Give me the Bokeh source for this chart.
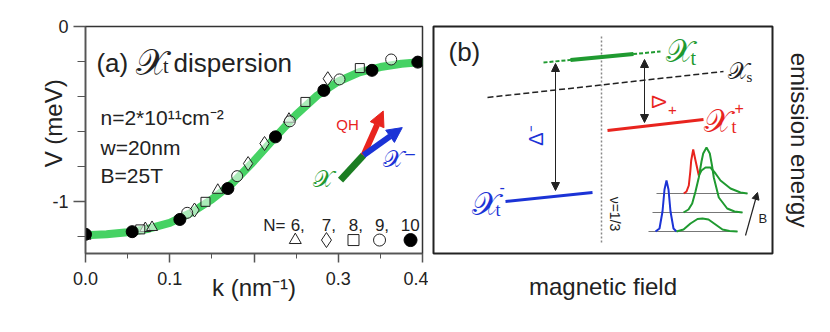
import math
from bokeh.plotting import figure
from bokeh.models import Range1d, FixedTicker, Label, Arrow, NormalHead
from bokeh.layouts import row
from bokeh.embed import file_html
from bokeh.resources import INLINE

# ---------------- data: panel (a) ----------------
curve_k = [0, 0.025, 0.05, 0.075, 0.1, 0.125, 0.15, 0.175, 0.2, 0.225, 0.25, 0.275, 0.3, 0.325, 0.35, 0.375, 0.4]
curve_V = [-1.195, -1.19, -1.178, -1.158, -1.125, -1.068, -0.99, -0.895, -0.77, -0.635, -0.505, -0.395, -0.315, -0.262, -0.232, -0.213, -0.203]

n6_k = [0.0, 0.071, 0.079, 0.157, 0.2415]
n6_V = [-1.20, -1.156, -1.15, -0.937, -0.530]
n7_k = [0.1294, 0.193, 0.2125, 0.2876]
n7_V = [-1.051, -0.785, -0.670, -0.299]
n8_k = [0.065, 0.1424, 0.261, 0.3256]
n8_V = [-1.162, -1.004, -0.432, -0.238]
n9_k = [0.1207, 0.180, 0.2425, 0.3015, 0.3628]
n9_V = [-1.067, -0.857, -0.543, -0.303, -0.189]
n10_k = [0.0, 0.0554, 0.112, 0.169, 0.2255, 0.2829, 0.340, 0.3944]
n10_V = [-1.19, -1.175, -1.105, -0.928, -0.632, -0.366, -0.251, -0.204]

x_ticks = [0, 0.1, 0.2, 0.3, 0.4]
x_tick_labels = ["0.0", "0.1", "", "0.3", "0.4"]
y_ticks = [0, -1]
y_tick_labels = ["0", "-1"]
legend_N = ["6,", "7,", "8,", "9,", "10"]

# ---------------- data: panel (b) (schematic, arbitrary units) ----------------
xt_u = [110, 227]; xt_v = [191, 202]
xt_solid_u = [137, 200]; xt_solid_v = [193.5, 199.5]
xs_u = [54, 290]; xs_v = [156, 182]
xtp_u = [174, 270]; xtp_v = [123, 134]
xtm_u = [72, 159]; xtm_v = [52, 61]
nu13_u = [168, 168]; nu13_v = [11, 218]

base_bot_u = [215, 304]; base_bot_v = [22, 22]
base_mid_u = [219, 309]; base_mid_v = [41, 41]
base_top_u = [223, 314]; base_top_v = [60, 60]
blue_u = [222, 226, 229, 231, 233, 235, 237, 240, 243]
blue_v = [22, 25, 42, 64, 73, 64, 42, 25, 22]
gbot_u = [243, 250, 257, 264, 269, 275, 282, 289, 296, 304]
gbot_v = [22, 24, 30, 34.5, 35, 34, 29, 24, 22.5, 22]
gmid_u = [250, 255, 258.7, 262, 265.3, 268, 269.7, 273, 276.3, 278.5, 280.3, 285.3, 293.7, 301, 309]
gmid_v = [41, 44, 50, 62, 76, 92, 100, 106, 100, 88, 76, 56, 45, 42, 41]
red_u = [250.3, 253, 255.3, 256.8, 257.7, 259.7, 262, 265.3]
red_v = [60, 62, 68, 82, 93, 104, 93, 78]
gtop_u = [265.3, 268, 272, 277, 282, 287, 297, 307, 314]
gtop_v = [78, 83, 86, 86, 80, 73, 65, 61, 60]

GREEN = "#1f9a30"
RED = "#e8241e"
BLUE = "#1b33d6"
SANS = "Liberation Sans"
SCRIPT = "DejaVu Serif"


def lab(p, x, y, text, size, color="#222222", align="left", baseline="middle",
        angle=0.0, font=SANS, style="normal"):
    p.add_layout(Label(x=x, y=y, text=text, text_font_size=f"{size}px",
                       text_color=color, text_align=align, text_baseline=baseline,
                       angle=angle, text_font=font, text_font_style=style))


def style_axis(ax):
    ax.major_label_text_font = SANS
    ax.major_label_text_font_size = "18px"
    ax.major_label_text_color = "#222222"
    ax.axis_line_color = "#555555"
    ax.axis_line_width = 1.5
    ax.major_tick_line_color = "#555555"
    ax.minor_tick_line_color = "#555555"
    ax.major_tick_line_width = 1.5
    ax.major_tick_in = 0
    ax.minor_tick_in = 0
    ax.axis_label_text_font = SANS
    ax.axis_label_text_font_size = "24px"
    ax.axis_label_text_font_style = "normal"
    ax.axis_label_text_color = "#222222"


def blank_axis(ax, label, standoff):
    ax.ticker = FixedTicker(ticks=[])
    ax.axis_line_color = None
    ax.major_tick_line_color = None
    ax.minor_tick_line_color = None
    ax.major_tick_out = 0
    ax.minor_tick_out = 0
    ax.major_label_standoff = 0
    ax.axis_label = label
    ax.axis_label_standoff = standoff
    ax.axis_label_text_font = SANS
    ax.axis_label_text_font_size = "24px"
    ax.axis_label_text_font_style = "normal"
    ax.axis_label_text_color = "#222222"


# ================= panel (a) =================
p1 = figure(width=428, height=324, x_range=Range1d(0, 0.4), y_range=Range1d(-1.3, 0),
            output_backend="svg", toolbar_location=None,
            min_border_left=85, min_border_right=6, min_border_top=26, min_border_bottom=71)
p1.grid.visible = False
p1.outline_line_color = "#333333"
p1.outline_line_width = 1.5

xa = p1.xaxis[0]
style_axis(xa)
xa.ticker = FixedTicker(ticks=x_ticks, minor_ticks=[0.05, 0.15, 0.25, 0.35])
xa.major_label_overrides = {t: s for t, s in zip(x_ticks, x_tick_labels)}
xa.major_tick_out = 9
xa.minor_tick_out = 5
xa.major_label_standoff = 9
xa.axis_label = "k (nm\u207b\u00b9)"
xa.axis_label_standoff = -14

ya = p1.yaxis[0]
style_axis(ya)
ya.ticker = FixedTicker(ticks=y_ticks, minor_ticks=[-0.2, -0.4, -0.6, -0.8, -1.2])
ya.major_label_overrides = {t: s for t, s in zip(y_ticks, y_tick_labels)}
ya.major_tick_out = 12
ya.minor_tick_out = 8
ya.major_label_standoff = 5
ya.axis_label = "\u00a0" * 5 + "V (meV)"
ya.axis_label_standoff = -18

p1.line(curve_k, curve_V, line_color="#46d264", line_width=8, line_cap="round")

mk = dict(line_color="#222222", line_width=1, fill_color="white", fill_alpha=0.55)
p1.scatter(n6_k, n6_V, marker="triangle", size=11, **mk)
p1.scatter(n7_k, n7_V, marker="diamond", size=14, **mk)
p1.scatter(n8_k, n8_V, marker="square", size=9, **mk)
p1.scatter(n9_k, n9_V, marker="circle", size=11, **mk)
p1.scatter(n10_k, n10_V, marker="circle", size=12, line_color="black", fill_color="black")

# legend row
leg_k = [0.249, 0.286, 0.3181, 0.349, 0.3858]
leg_V = -1.223
p1.scatter([leg_k[0]], [leg_V], marker="triangle", size=12, **mk)
p1.scatter([leg_k[1]], [leg_V], marker="diamond", size=15, **mk)
p1.scatter([leg_k[2]], [leg_V], marker="square", size=11, **mk)
p1.scatter([leg_k[3]], [leg_V], marker="circle", size=12, **mk)
p1.scatter([leg_k[4]], [leg_V], marker="circle", size=13, line_color="black", fill_color="black")
lab(p1, 0.211, -1.137, "N=", 17, baseline="alphabetic")
for kk, s in zip(leg_k, legend_N):
    lab(p1, kk - 0.0055 if s != "10" else kk - 0.0115, -1.137, s, 17, baseline="alphabetic")

# title & notes
lab(p1, 0.013, -0.211, "(a)", 26, baseline="alphabetic")
lab(p1, 0.060, -0.205, "\U0001D4B3", 36, baseline="alphabetic", font=SCRIPT)
lab(p1, 0.092, -0.229, "t", 20, baseline="alphabetic", font="Liberation Serif")
lab(p1, 0.1045, -0.211, "dispersion", 26, baseline="alphabetic")
lab(p1, 0.0178, -0.52, "n=2*10\u00b9\u00b9cm\u207b\u00b2", 21, baseline="alphabetic")
lab(p1, 0.0178, -0.691, "w=20nm", 21, baseline="alphabetic")
lab(p1, 0.0178, -0.851, "B=25T", 21, baseline="alphabetic")

# inset arrows
p1.line([0.3027, 0.330], [-0.88, -0.737], line_color="#1b7d22", line_width=7)
p1.add_layout(Arrow(x_start=0.330, y_start=-0.737, x_end=0.3534, y_end=-0.484,
                    line_color=RED, line_width=6,
                    end=NormalHead(size=15, fill_color=RED, line_color=RED)))
p1.add_layout(Arrow(x_start=0.330, y_start=-0.737, x_end=0.376, y_end=-0.579,
                    line_color=BLUE, line_width=6,
                    end=NormalHead(size=15, fill_color=BLUE, line_color=BLUE)))
lab(p1, 0.311, -0.56, "QH", 15, color=RED, align="center")
lab(p1, 0.2825, -0.874, "\U0001D4B3", 24, color=GREEN, align="center", font=SCRIPT)
lab(p1, 0.3727, -0.76, "\U0001D4B3\u207b", 24, color=BLUE, align="center", font=SCRIPT)

# ================= panel (b) =================
p2 = figure(width=394, height=324, x_range=Range1d(0, 339), y_range=Range1d(0, 227),
            output_backend="svg", toolbar_location=None, y_axis_location="right",
            min_border_left=5, min_border_right=50, min_border_top=26, min_border_bottom=71)
p2.grid.visible = False
p2.outline_line_color = "#222222"
p2.outline_line_width = 2
blank_axis(p2.xaxis[0], "magnetic field", 19)
blank_axis(p2.yaxis[0], "emission energy", 13)

p2.line(nu13_u, nu13_v, line_color="#888888", line_width=1.5, line_dash="2 2")
p2.line(xt_u, xt_v, line_color=GREEN, line_width=2, line_dash="4 2")
p2.line(xt_solid_u, xt_solid_v, line_color=GREEN, line_width=4)
p2.line(xs_u, xs_v, line_color="#222222", line_width=1.5, line_dash="6 3")
p2.line(xtp_u, xtp_v, line_color=RED, line_width=3)
p2.line(xtm_u, xtm_v, line_color=BLUE, line_width=3)

for (u, v0, v1) in [(211, 131, 194), (122, 63, 190)]:
    p2.add_layout(Arrow(x_start=u, y_start=v0, x_end=u, y_end=v1,
                        line_color="#222222", line_width=1,
                        start=NormalHead(size=8, fill_color="#222222", line_color="#222222"),
                        end=NormalHead(size=8, fill_color="#222222", line_color="#222222")))

# spectra inset
for bu, bv in [(base_bot_u, base_bot_v), (base_mid_u, base_mid_v), (base_top_u, base_top_v)]:
    p2.line(bu, bv, line_color="#777777", line_width=1.2)
p2.line(blue_u, blue_v, line_color=BLUE, line_width=2)
p2.line(gbot_u, gbot_v, line_color=GREEN, line_width=2)
p2.line(gmid_u, gmid_v, line_color=GREEN, line_width=2)
p2.line(red_u, red_v, line_color=RED, line_width=2)
p2.line(gtop_u, gtop_v, line_color=GREEN, line_width=2)
p2.add_layout(Arrow(x_start=312, y_start=18, x_end=324, y_end=61,
                    line_color="#222222", line_width=1.2,
                    end=NormalHead(size=7, fill_color="#222222", line_color="#222222")))
lab(p2, 325, 35, "B", 13)

lab(p2, 15, 201.5, "(b)", 26)
lab(p2, 232, 203, "\U0001D4B3", 32, color=GREEN, font=SCRIPT)
lab(p2, 257, 196, "t", 20, color=GREEN, font="Liberation Serif")
lab(p2, 294, 183, "\U0001D4B3", 24, color="#222222", font=SCRIPT)
lab(p2, 313, 177, "s", 15, color="#222222", font="Liberation Serif")
lab(p2, 270, 133, "\U0001D4B3", 32, color=RED, font=SCRIPT)
lab(p2, 298, 127, "t", 18, color=RED, font="Liberation Serif")
lab(p2, 301, 146, "+", 16, color=RED)
lab(p2, 38, 50, "\U0001D4B3", 32, color=BLUE, font=SCRIPT)
lab(p2, 62, 44, "t", 18, color=BLUE, font="Liberation Serif")
lab(p2, 66, 67, "-", 16, color=BLUE)
lab(p2, 225, 151.5, "\u0394", 20, color=RED, align="center", angle=-math.pi / 2)
lab(p2, 239, 144, "+", 15, color=RED, align="center")
lab(p2, 102, 118, "\u0394\u207b", 20, color=BLUE, align="center", angle=math.pi / 2)
lab(p2, 181.5, 39.5, "\u03bd=1/3", 14, align="center", angle=-math.pi / 2)

layout = row(p1, p2)
open("out.html", "w").write(file_html(layout, INLINE))
